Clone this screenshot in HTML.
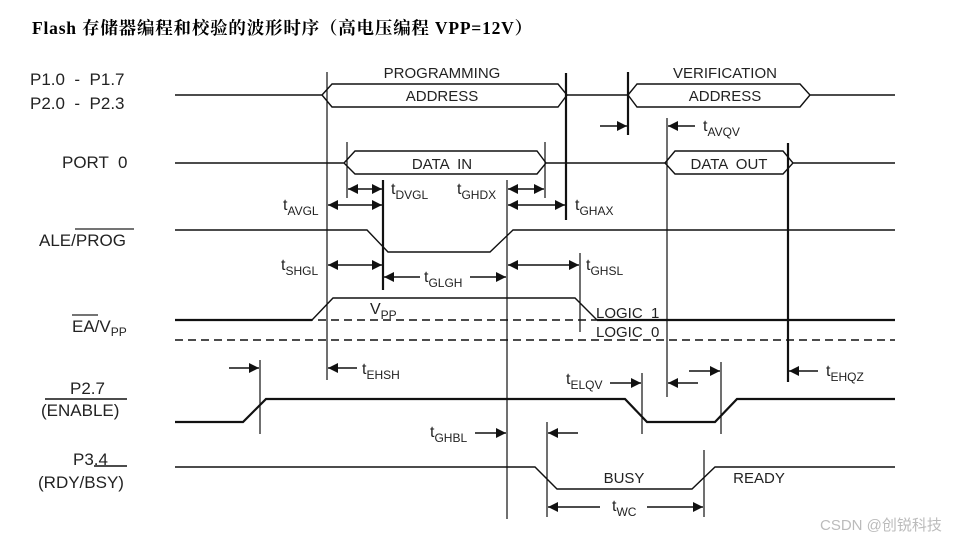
<!DOCTYPE html>
<html><head><meta charset="utf-8">
<style>
html,body{margin:0;padding:0;background:#fff;}
svg{display:block;}
text{font-family:"Liberation Sans",Arial,sans-serif;fill:#222;}
</style></head>
<body>
<svg width="969" height="542" viewBox="0 0 969 542" xmlns="http://www.w3.org/2000/svg">
<defs>
<marker id="a" markerUnits="userSpaceOnUse" markerWidth="12" markerHeight="12" refX="10" refY="5" orient="auto">
<path d="M0,0 L10,5 L0,10 z" fill="#111"/>
</marker>
</defs>
<text x="32" y="34" style="font-family:'Liberation Serif','Noto Serif CJK SC',serif;font-weight:bold;font-size:17.5px;letter-spacing:0.8px;fill:#000">Flash 存储器编程和校验的波形时序（高电压编程 VPP=12V）</text>

<!-- left labels -->
<g font-size="17">
<text x="30" y="85" style="white-space:pre">P1.0  -  P1.7</text>
<text x="30" y="109" style="white-space:pre">P2.0  -  P2.3</text>
<text x="62" y="168" style="white-space:pre">PORT  0</text>
<text x="39" y="246">ALE/PROG</text>
<line x1="75" y1="229" x2="134" y2="229" stroke="#222" stroke-width="1.2"/>
<text x="72" y="332">EA/V<tspan font-size="12" dy="4">PP</tspan></text>
<line x1="72" y1="315" x2="98" y2="315" stroke="#222" stroke-width="1.2"/>
<text x="70" y="394">P2.7</text>
<line x1="45" y1="399" x2="127" y2="399" stroke="#111" stroke-width="1.6"/>
<text x="41" y="416">(ENABLE)</text>
<text x="73" y="465">P3.4</text>
<line x1="94" y1="466" x2="127" y2="466" stroke="#111" stroke-width="1.4"/>
<text x="38" y="488">(RDY/BSY)</text>
</g>

<g fill="none" stroke="#111" stroke-width="1.4">
<path d="M175,95 H322 L332,84 H558 L567,95 L558,107 H332 L322,95"/>
<path d="M567,95 H628 L637,84 H800 L810,95 L800,107 H637 L628,95 M810,95 H895"/>
<path d="M175,163 H344 L355,151 H537 L546,163 L537,174 H355 L344,163 M546,163 H665"/>
<path d="M665,163 L675,151 H783 L793,163 L783,174 H675 Z M793,163 H895"/>
<path d="M175,230 H367 L388,252 H490 L513,230 H895"/>
<path d="M175,467 H535 L557,489 H692 L715,467 H895"/>
</g>
<g fill="none" stroke="#111" stroke-width="2.2">
<path d="M175,320 H312"/>
<path d="M597,320 H895"/>
<path d="M312,320 L333,298 H575 L597,320" stroke-width="1.4"/>
<path d="M175,422 H243 L266,399 H625 L647,422 H715 L737,399 H895"/>
</g>
<line x1="175" y1="320" x2="597" y2="320" stroke="#111" stroke-width="1.6" stroke-dasharray="8,5"/>
<line x1="175" y1="340" x2="895" y2="340" stroke="#111" stroke-width="1.4" stroke-dasharray="8,5"/>

<g stroke="#111" stroke-width="1.2">
<line x1="327" y1="72" x2="327" y2="380"/>
<line x1="347" y1="142" x2="347" y2="198"/>
<line x1="545" y1="142" x2="545" y2="198"/>
<line x1="507" y1="180" x2="507" y2="519"/>
<line x1="580" y1="253" x2="580" y2="332"/>
<line x1="667" y1="118" x2="667" y2="397"/>
<line x1="260" y1="360" x2="260" y2="434"/>
<line x1="547" y1="422" x2="547" y2="517"/>
<line x1="704" y1="450" x2="704" y2="517"/>
<line x1="642" y1="373" x2="642" y2="434"/>
<line x1="721" y1="362" x2="721" y2="434"/>
</g>
<g stroke="#111" stroke-width="2.2">
<line x1="566" y1="73" x2="566" y2="220"/>
<line x1="628" y1="72" x2="628" y2="135"/>
<line x1="383" y1="180" x2="383" y2="290"/>
<line x1="788" y1="143" x2="788" y2="382"/>
</g>

<g stroke="#111" stroke-width="1.6" marker-end="url(#a)">
<line x1="600" y1="126" x2="627" y2="126"/>
<line x1="695" y1="126" x2="668" y2="126"/>
<line x1="365" y1="189" x2="348" y2="189"/><line x1="365" y1="189" x2="382" y2="189"/>
<line x1="355" y1="205" x2="328" y2="205"/><line x1="355" y1="205" x2="382" y2="205"/>
<line x1="525" y1="189" x2="508" y2="189"/><line x1="525" y1="189" x2="544" y2="189"/>
<line x1="536" y1="205" x2="508" y2="205"/><line x1="536" y1="205" x2="565" y2="205"/>
<line x1="355" y1="265" x2="328" y2="265"/><line x1="355" y1="265" x2="382" y2="265"/>
<line x1="420" y1="277" x2="384" y2="277"/><line x1="470" y1="277" x2="506" y2="277"/>
<line x1="540" y1="265" x2="508" y2="265"/><line x1="540" y1="265" x2="579" y2="265"/>
<line x1="357" y1="368" x2="328" y2="368"/>
<line x1="229" y1="368" x2="259" y2="368"/>
<line x1="475" y1="433" x2="506" y2="433"/>
<line x1="578" y1="433" x2="548" y2="433"/>
<line x1="600" y1="507" x2="548" y2="507"/>
<line x1="647" y1="507" x2="703" y2="507"/>
<line x1="610" y1="383" x2="641" y2="383"/>
<line x1="698" y1="383" x2="668" y2="383"/>
<line x1="689" y1="371" x2="720" y2="371"/>
<line x1="818" y1="371" x2="789" y2="371"/>
</g>

<g font-size="15">
<text x="442" y="78" text-anchor="middle">PROGRAMMING</text>
<text x="442" y="101" text-anchor="middle">ADDRESS</text>
<text x="725" y="78" text-anchor="middle">VERIFICATION</text>
<text x="725" y="101" text-anchor="middle">ADDRESS</text>
<text x="442" y="169" text-anchor="middle" style="white-space:pre">DATA  IN</text>
<text x="729" y="169" text-anchor="middle" style="white-space:pre">DATA  OUT</text>
<text x="596" y="318" style="white-space:pre">LOGIC  1</text>
<text x="596" y="337" style="white-space:pre">LOGIC  0</text>
<text x="624" y="483" text-anchor="middle">BUSY</text>
<text x="759" y="483" text-anchor="middle">READY</text>
</g>
<g font-size="16">
<text x="703" y="131">t<tspan font-size="12" dy="5">AVQV</tspan></text>
<text x="391" y="194">t<tspan font-size="12" dy="5">DVGL</tspan></text>
<text x="457" y="194">t<tspan font-size="12" dy="5">GHDX</tspan></text>
<text x="283" y="210">t<tspan font-size="12" dy="5">AVGL</tspan></text>
<text x="575" y="210">t<tspan font-size="12" dy="5">GHAX</tspan></text>
<text x="281" y="270">t<tspan font-size="12" dy="5">SHGL</tspan></text>
<text x="424" y="282">t<tspan font-size="12" dy="5">GLGH</tspan></text>
<text x="586" y="270">t<tspan font-size="12" dy="5">GHSL</tspan></text>
<text x="370" y="314">V<tspan font-size="12" dy="5">PP</tspan></text>
<text x="362" y="374">t<tspan font-size="12" dy="5">EHSH</tspan></text>
<text x="430" y="437">t<tspan font-size="12" dy="5">GHBL</tspan></text>
<text x="566" y="384">t<tspan font-size="12" dy="5">ELQV</tspan></text>
<text x="826" y="376">t<tspan font-size="12" dy="5">EHQZ</tspan></text>
<text x="612" y="511">t<tspan font-size="12" dy="5">WC</tspan></text>
</g>
<text x="820" y="530" style="font-family:'Liberation Sans','Noto Sans CJK SC',sans-serif;font-size:15px;fill:#bbb">CSDN @创锐科技</text>
</svg>
</body></html>
